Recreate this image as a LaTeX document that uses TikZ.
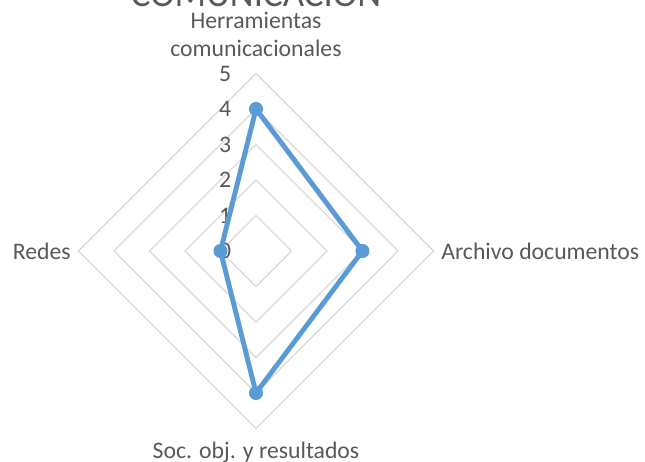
\documentclass[tikz,border=0pt]{standalone}
\usepackage{fontspec}
\setmainfont{Carlito}
\usetikzlibrary{calc}

\definecolor{gridgray}{HTML}{D9D9D9}
\definecolor{labelgray}{HTML}{595959}
\definecolor{seriesblue}{HTML}{5B9BD5}

\tikzset{
	gridline/.style={draw=gridgray,line width=0.7pt},
	axislabel/.style={text=labelgray,inner sep=0pt,font=\fontsize{13.5}{16}\selectfont},
	ticklabel/.style={text=labelgray,inner sep=0pt,font=\fontsize{13.5}{16}\selectfont},
	datapoint/.style={fill=seriesblue,circle,inner sep=0pt,minimum size=8pt},
}

\begin{document}
\begin{tikzpicture}[x=0.71cm,y=0.71cm]

\useasboundingbox (-7.211,-5.944) rectangle (10.958,7.070);

\foreach \r in {1,...,5} {
	\draw [gridline] (0,\r) -- (\r,0) -- (0,-\r) -- (-\r,0) -- cycle;
}

\foreach \v in {0,...,5} {
	\node [ticklabel] (t\v) at (-0.87,\v) {\v};
}

\node [axislabel,align=center] (top) at (0,6.11) {Herramientas\\comunicacionales};
\node [axislabel,anchor=west] (right) at (5.21,0) {Archivo documentos};
\node [axislabel] (bottom) at (0,-5.66) {Soc. obj. y resultados};
\node [axislabel,anchor=east] (left) at (-5.21,0) {Redes};

\node [text=labelgray,inner sep=0pt,anchor=base,font=\fontsize{21}{25}\selectfont]
	(title) at (0,6.89) {COMUNICACIÓN};

\node [datapoint] (p0) at (0,4) {};
\node [datapoint] (p1) at (3,0) {};
\node [datapoint] (p2) at (0,-4) {};
\node [datapoint] (p3) at (-1,0) {};

\draw [seriesblue,line width=2.8pt,line join=round]
	(p0.center) -- (p1.center) -- (p2.center) -- (p3.center) -- cycle;

\end{tikzpicture}
\end{document}
